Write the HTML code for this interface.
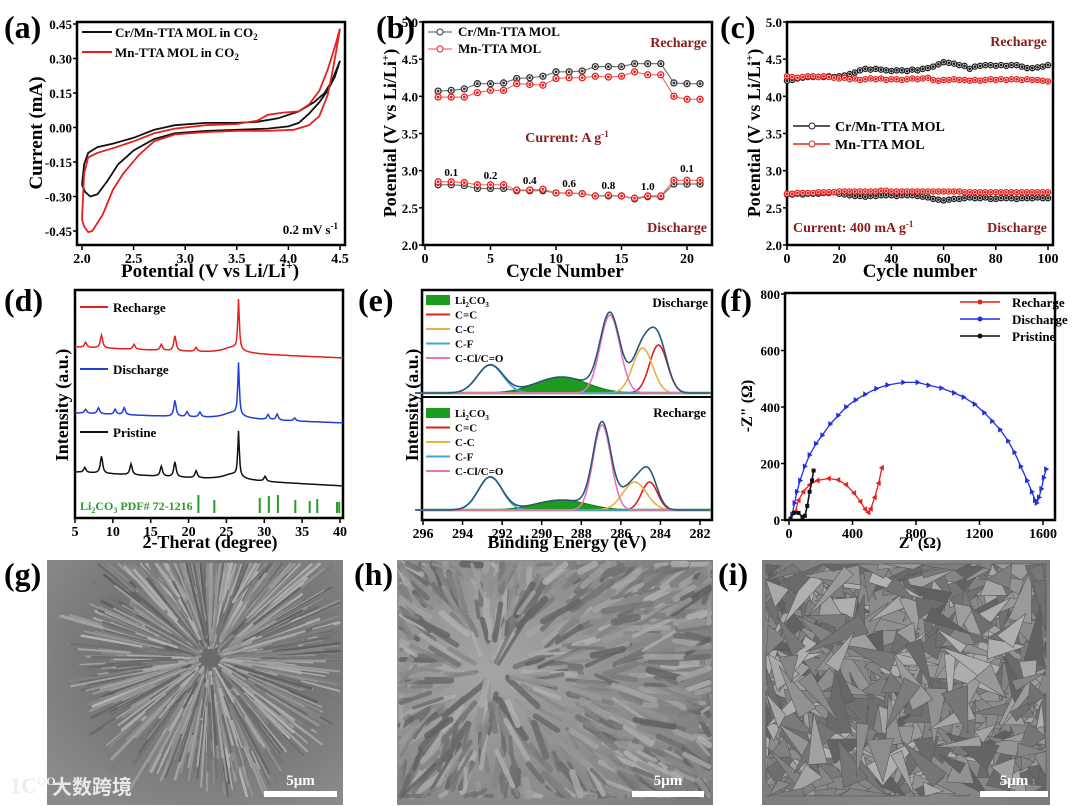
<!DOCTYPE html>
<html><head><meta charset="utf-8">
<style>
html,body{margin:0;padding:0;background:#fff;overflow:hidden;width:1080px;height:806px;}
svg{display:block;font-family:"Liberation Serif",serif;font-weight:bold;}
</style></head>
<body>
<svg id="fig" width="1080" height="806" viewBox="0 0 1080 806" xmlns="http://www.w3.org/2000/svg">
<defs>
<clipPath id="clipG"><rect x="47" y="560" width="296" height="245"/></clipPath>
<clipPath id="clipH"><rect x="397" y="560" width="316" height="245"/></clipPath>
<clipPath id="clipI"><rect x="762" y="560" width="288" height="245"/></clipPath>
<radialGradient id="gradG" cx="0.55" cy="0.4" r="0.7"><stop offset="0" stop-color="#6a6a6a"/><stop offset="0.3" stop-color="#6a6a6a"/><stop offset="1" stop-color="#8a8a8a"/></radialGradient>
<radialGradient id="gradH" cx="0.3" cy="0.45" r="0.8"><stop offset="0" stop-color="#a5a5a5"/><stop offset="1" stop-color="#7c7c7c"/></radialGradient>
<radialGradient id="gradI" cx="0.5" cy="0.5" r="0.75"><stop offset="0" stop-color="#9a9a9a"/><stop offset="1" stop-color="#7a7a7a"/></radialGradient>
</defs>
</svg>
<script>
// ---------- Panel a data (CV) ----------
const cvBlackV=[2.0,2.02,2.06,2.15,2.3,2.5,2.7,2.9,3.2,3.5,3.7,3.9,4.1,4.25,4.35,4.42,4.5,4.45,4.38,4.3,4.2,4.1,4.0,3.8,3.5,3.2,2.9,2.7,2.5,2.35,2.25,2.15,2.08,2.03,2.0];
const cvBlackI=[-0.25,-0.16,-0.11,-0.085,-0.07,-0.045,-0.01,0.01,0.02,0.02,0.025,0.04,0.07,0.11,0.15,0.2,0.29,0.22,0.16,0.11,0.06,0.02,0.005,-0.005,-0.01,-0.015,-0.025,-0.05,-0.1,-0.16,-0.23,-0.29,-0.30,-0.28,-0.25];
const cvRedV=[2.0,2.02,2.06,2.15,2.3,2.5,2.7,2.9,3.2,3.5,3.7,3.8,3.95,4.1,4.2,4.3,4.38,4.45,4.5,4.47,4.43,4.38,4.3,4.2,4.05,3.8,3.5,3.2,2.9,2.7,2.55,2.4,2.3,2.2,2.1,2.06,2.02,2.0];
const cvRedI=[-0.40,-0.2,-0.13,-0.11,-0.09,-0.06,-0.025,-0.005,0.01,0.015,0.03,0.055,0.065,0.07,0.1,0.16,0.25,0.35,0.43,0.35,0.25,0.14,0.05,0.01,-0.01,-0.015,-0.015,-0.02,-0.03,-0.06,-0.12,-0.2,-0.27,-0.38,-0.45,-0.455,-0.43,-0.40];
const aXTicks=[2.0,2.5,3.0,3.5,4.0,4.5];
const aYTicks=[-0.45,-0.30,-0.15,0.00,0.15,0.30,0.45];
// ---------- Panel b data (rate) ----------
const bCycles=[1,2,3,4,5,6,7,8,9,10,11,12,13,14,15,16,17,18,19,20,21];
const bCrCharge=[4.07,4.08,4.10,4.17,4.17,4.18,4.24,4.25,4.27,4.33,4.33,4.34,4.40,4.40,4.40,4.44,4.44,4.44,4.18,4.17,4.17];
const bMnCharge=[3.99,3.99,3.99,4.05,4.08,4.08,4.17,4.16,4.15,4.24,4.25,4.25,4.27,4.26,4.27,4.33,4.29,4.29,4.00,3.96,3.96];
const bCrDis=[2.81,2.81,2.80,2.76,2.76,2.76,2.73,2.73,2.73,2.70,2.70,2.69,2.66,2.66,2.66,2.62,2.65,2.65,2.82,2.82,2.82];
const bMnDis=[2.85,2.85,2.84,2.81,2.81,2.81,2.74,2.74,2.75,2.70,2.70,2.69,2.66,2.67,2.66,2.63,2.66,2.66,2.87,2.87,2.87];
const bRateLabels=["0.1","0.2","0.4","0.6","0.8","1.0","0.1"];
const bRateCycles=[2,5,8,11,14,17,20];
const bXTicks=[0,5,10,15,20];
const potTicks=[2.0,2.5,3.0,3.5,4.0,4.5,5.0];
// ---------- Panel c data (cycling, every 2 cycles) ----------
const cCrCharge=[4.21,4.22,4.24,4.25,4.26,4.26,4.26,4.26,4.27,4.26,4.27,4.28,4.30,4.32,4.35,4.37,4.36,4.37,4.36,4.35,4.34,4.35,4.35,4.34,4.36,4.35,4.37,4.38,4.40,4.43,4.46,4.45,4.44,4.42,4.41,4.37,4.40,4.41,4.42,4.42,4.41,4.42,4.41,4.42,4.42,4.40,4.38,4.38,4.39,4.40,4.42];
const cMnCharge=[4.27,4.26,4.25,4.26,4.27,4.27,4.26,4.27,4.26,4.25,4.24,4.25,4.23,4.24,4.22,4.23,4.24,4.23,4.24,4.22,4.23,4.23,4.22,4.23,4.24,4.23,4.24,4.25,4.22,4.21,4.22,4.22,4.23,4.22,4.22,4.21,4.22,4.21,4.22,4.23,4.22,4.23,4.22,4.23,4.23,4.22,4.23,4.22,4.22,4.21,4.20];
const cCrDis=[2.68,2.68,2.69,2.68,2.69,2.69,2.69,2.70,2.70,2.71,2.69,2.68,2.67,2.66,2.66,2.65,2.66,2.66,2.67,2.67,2.67,2.66,2.67,2.67,2.67,2.66,2.65,2.64,2.62,2.61,2.60,2.61,2.62,2.62,2.63,2.64,2.63,2.63,2.64,2.62,2.62,2.63,2.63,2.63,2.62,2.63,2.63,2.63,2.64,2.63,2.63];
const cMnDis=[2.69,2.69,2.70,2.70,2.70,2.70,2.71,2.71,2.71,2.71,2.72,2.72,2.72,2.72,2.72,2.72,2.72,2.72,2.73,2.73,2.72,2.72,2.72,2.72,2.72,2.72,2.72,2.72,2.72,2.72,2.72,2.72,2.72,2.72,2.71,2.71,2.71,2.71,2.71,2.71,2.71,2.71,2.71,2.71,2.71,2.71,2.71,2.71,2.71,2.71,2.71];
const cXTicks=[0,20,40,60,80,100];
// ---------- Panel d data (XRD peaks) ----------
const dPristinePos=[6.3,8.5,12.4,16.4,18.2,21.0,26.6,30.1];
const dPristineH=[5,17,11,10,15,7,45,5];
const dDischargePos=[6.4,8.1,10.3,11.5,18.2,19.8,21.5,26.6,30.5,31.7,34.0];
const dDischargeH=[4,6,5,7,16,5,5,52,5,6,3];
const dRechargePos=[6.4,8.5,12.8,16.4,18.2,21.0,26.6];
const dRechargeH=[5,13,5,6,15,4,50];
const dRefPos=[21.3,23.4,29.4,30.6,31.8,34.1,36.0,37.0,39.6,39.9];
const dRefH=[18,13,15,17,18,13,12,14,11,11];
const dXTicks=[5,10,15,20,25,30,35,40];
// ---------- Panel e data (XPS components: center, height px, sigma) ----------
const eCompNames=["Li2CO3","C=C","C-C","C-F","C-Cl/C=O"];
const eDisCenter=[289.0,284.1,284.9,292.6,286.55];
const eDisHeight=[16,48,45,28,78];
const eDisSigma=[1.3,0.45,0.5,0.65,0.5];
const eRecCenter=[289.0,284.55,285.3,292.6,286.95];
const eRecHeight=[10,28,28,33,85];
const eRecSigma=[1.3,0.4,0.6,0.6,0.45];
const eXTicks=[296,294,292,290,288,286,284,282];
// ---------- Panel f data (EIS) ----------
const fDisX=[20,35,50,70,100,130,170,210,260,310,360,420,480,550,620,720,810,880,960,1040,1100,1170,1230,1280,1330,1380,1420,1460,1500,1530,1550,1560,1575,1590,1605,1620];
const fDisY=[20,60,100,140,190,230,270,300,340,370,400,425,445,465,478,487,487,477,467,450,435,410,380,350,320,280,240,190,140,100,70,60,80,110,150,180];
const fRecX=[40,60,90,130,180,250,310,360,410,450,480,500,515,540,565,585];
const fRecY=[30,70,100,125,140,147,142,125,95,65,38,27,40,80,130,185];
const fPriX=[10,30,60,85,100,115,130,145,155];
const fPriY=[5,25,25,10,15,50,100,140,175];
const fXTicks=[0,400,800,1200,1600];
const fYTicks=[0,200,400,600,800];

const NS="http://www.w3.org/2000/svg";
const svg=document.getElementById('fig');
function mk(tag,attrs,name,parent,inter){
  const el=document.createElementNS(NS,tag);
  for(const k in attrs) el.setAttribute(k,attrs[k]);
  
  
  (parent||svg).appendChild(el);
  return el;
}
function txt(x,y,s,size,name,opts){
  opts=opts||{};
  const t=mk('text',{x:x,y:y,'font-size':size,fill:opts.fill||'#000','text-anchor':opts.anchor||'start'},name,opts.parent);
  if(opts.rot) t.setAttribute('transform','rotate(-90 '+x+' '+y+')');
  t.innerHTML=s;
  return t;
}
function lin(d0,d1,r0,r1){return v=>r0+(v-d0)/(d1-d0)*(r1-r0);}
function box(x0,y0,x1,y1,name){mk('rect',{x:x0,y:y0,width:x1-x0,height:y1-y0,fill:'none',stroke:'#000','stroke-width':2.5},name);}
function xticks(vals,sx,yb,labels,name){
  vals.forEach((v,i)=>{
    const x=sx(v);
    mk('line',{x1:x,y1:yb,x2:x,y2:yb+5,stroke:'#000','stroke-width':1.5},name+'-tick');
    txt(x,yb+18,labels?labels[i]:String(v),14,name+'-label',{anchor:'middle'});
  });
}
function yticks(vals,sy,xl,fmt,name){
  vals.forEach(v=>{
    const y=sy(v);
    mk('line',{x1:xl-4,y1:y,x2:xl,y2:y,stroke:'#000','stroke-width':1.5},name+'-tick');
    txt(xl-5,y+5,fmt(v),13,name+'-label',{anchor:'end'});
  });
}
function poly(xs,ys,sx,sy,color,name,w){
  const p=xs.map((x,i)=>sx(x).toFixed(1)+','+sy(ys[i]).toFixed(1)).join(' ');
  return mk('polyline',{points:p,fill:'none',stroke:color,'stroke-width':w||1.6},name);
}
function markers(xs,ys,sx,sy,color,name,r){
  xs.forEach((x,i)=>{mk('circle',{cx:sx(x),cy:sy(ys[i]),r:r||3,fill:'#fff',stroke:color,'stroke-width':1.3},name);
  mk('circle',{cx:sx(x),cy:sy(ys[i]),r:1.4,fill:color},name+'-dot');});
}
const DR='#8b1a1a';

// ===== Panel a =====
txt(4,38,'(a)',32,'panel-a-label');
const ax=lin(2.0,4.5,82,340), ay=lin(-0.45,0.45,231,24);
box(77,22,345,245,'panel-a-frame');
xticks(aXTicks,ax,245,aXTicks.map(v=>v.toFixed(1)),'a-x-tick');
yticks(aYTicks,ay,77,v=>v.toFixed(2),'a-y-tick');
poly(cvBlackV,cvBlackI,ax,ay,'#111','cv-curve-cr-mn',1.8);
poly(cvRedV,cvRedI,ax,ay,'#e5201e','cv-curve-mn',1.8);
mk('line',{x1:82,y1:32,x2:112,y2:32,stroke:'#111','stroke-width':2},'legend-a-cr-line');
txt(115,37,'Cr/Mn-TTA MOL in CO<tspan font-size="9" dy="3">2</tspan>',13,'legend-a-cr-text');
mk('line',{x1:82,y1:52,x2:112,y2:52,stroke:'#e5201e','stroke-width':2},'legend-a-mn-line');
txt(115,57,'Mn-TTA MOL in CO<tspan font-size="9" dy="3">2</tspan>',13,'legend-a-mn-text');
txt(338,234,'0.2 mV s<tspan font-size="9" dy="-5">-1</tspan>',13,'scan-rate-note',{anchor:'end'});
txt(42,133,'Current (mA)',19,'a-y-axis-title',{anchor:'middle',rot:true});
txt(210,277,'Potential (V vs Li/Li<tspan font-size="12" dy="-8">+</tspan><tspan dy="8">)</tspan>',19,'a-x-axis-title',{anchor:'middle'});

// ===== Panel b =====
txt(376,38,'(b)',32,'panel-b-label');
const bx=lin(0,20,425,687), by=lin(2.0,5.0,245,22);
box(423,22,712,245,'panel-b-frame');
xticks(bXTicks,bx,245,null,'b-x-tick');
yticks(potTicks,by,423,v=>v.toFixed(1),'b-y-tick');
[[bCrCharge,'#333','b-cr-recharge'],[bMnCharge,'#e5201e','b-mn-recharge'],[bCrDis,'#333','b-cr-discharge'],[bMnDis,'#e5201e','b-mn-discharge']].forEach(s=>{
  poly(bCycles,s[0],bx,by,s[1]==='#333'?'#777':'#f07070',s[2]+'-line',1.2);
  markers(bCycles,s[0],bx,by,s[1],s[2]+'-marker',3);
});
bRateCycles.forEach((c,i)=>{
  const yy=i===6?by(2.98):by(bMnDis[c-1])-6;
  txt(bx(c),yy,bRateLabels[i],11,'rate-label',{anchor:'middle'});
});
mk('line',{x1:428,y1:32,x2:452,y2:32,stroke:'#777','stroke-width':1.3},'legend-b-cr-line');
mk('circle',{cx:440,cy:32,r:3,fill:'#fff',stroke:'#333'},'legend-b-cr-marker');
txt(458,36,'Cr/Mn-TTA MOL',13,'legend-b-cr-text');
mk('line',{x1:428,y1:49,x2:452,y2:49,stroke:'#f07070','stroke-width':1.3},'legend-b-mn-line');
mk('circle',{cx:440,cy:49,r:3,fill:'#fff',stroke:'#e5201e'},'legend-b-mn-marker');
txt(458,53,'Mn-TTA MOL',13,'legend-b-mn-text');
txt(707,47,'Recharge',14,'b-recharge-note',{anchor:'end',fill:DR});
txt(567,142,'Current:  A g<tspan font-size="9" dy="-5">-1</tspan>',14,'b-current-note',{anchor:'middle',fill:DR});
txt(707,232,'Discharge',14,'b-discharge-note',{anchor:'end',fill:DR});
txt(396,133,'Potential (V vs Li/Li<tspan font-size="11" dy="-7">+</tspan><tspan dy="7">)</tspan>',18,'b-y-axis-title',{anchor:'middle',rot:true});
txt(565,277,'Cycle Number',19,'b-x-axis-title',{anchor:'middle'});

// ===== Panel c =====
txt(720,38,'(c)',32,'panel-c-label');
const cx=lin(0,100,787,1048), cy=by;
const cIdx=cCrCharge.map((_,i)=>i*2);
box(787,22,1053,245,'panel-c-frame');
xticks(cXTicks,cx,245,null,'c-x-tick');
yticks(potTicks,cy,787,v=>v.toFixed(1),'c-y-tick');
[[cCrCharge,'#222','c-cr-recharge'],[cMnCharge,'#e5201e','c-mn-recharge'],[cCrDis,'#222','c-cr-discharge'],[cMnDis,'#e5201e','c-mn-discharge']].forEach(s=>{
  poly(cIdx,s[0],cx,cy,s[1],s[2]+'-line',1.2);
  markers(cIdx,s[0],cx,cy,s[1],s[2]+'-marker',2.6);
});
mk('line',{x1:793,y1:126,x2:830,y2:126,stroke:'#222','stroke-width':1.5},'legend-c-cr-line');
mk('circle',{cx:812,cy:126,r:3,fill:'#fff',stroke:'#222'},'legend-c-cr-marker');
txt(835,131,'Cr/Mn-TTA MOL',14,'legend-c-cr-text');
mk('line',{x1:793,y1:144,x2:830,y2:144,stroke:'#e5201e','stroke-width':1.5},'legend-c-mn-line');
mk('circle',{cx:812,cy:144,r:3,fill:'#fff',stroke:'#e5201e'},'legend-c-mn-marker');
txt(835,149,'Mn-TTA MOL',14,'legend-c-mn-text');
txt(1047,46,'Recharge',14,'c-recharge-note',{anchor:'end',fill:DR});
txt(793,232,'Current: 400 mA g<tspan font-size="9" dy="-5">-1</tspan>',14,'c-current-note',{fill:DR});
txt(1047,232,'Discharge',14,'c-discharge-note',{anchor:'end',fill:DR});
txt(760,133,'Potential  (V vs Li/Li<tspan font-size="11" dy="-7">+</tspan><tspan dy="7">)</tspan>',18,'c-y-axis-title',{anchor:'middle',rot:true});
txt(920,277,'Cycle number',19,'c-x-axis-title',{anchor:'middle'});

// ===== Panel d =====
txt(4,311,'(d)',32,'panel-d-label');
const dx=lin(5,40,75,340);
box(75,290,343,518,'panel-d-frame');
xticks(dXTicks,dx,518,null,'d-x-tick');
function xrd(pos,h,b0,b1,color,name){
  const xs=[],ys=[];
  for(let t=5;t<=40.5;t+=0.1){
    let y=b0+(b1-b0)*(t-5)/35.5;
    let s=0;
    pos.forEach((p,i)=>{const w=p>26&&p<27?0.12:0.18;s+=h[i]/(1+((t-p)/w)**2);});
    s+=6/(1+((t-25.8)/1.5)**2);
    xs.push(dx(t));ys.push(y-s);
  }
  poly(xs,ys,v=>v,v=>v,color,name,1.5);
}
xrd(dRechargePos,dRechargeH,347,358,'#e5201e','xrd-recharge');
xrd(dDischargePos,dDischargeH,413,423,'#1f3fd6','xrd-discharge');
xrd(dPristinePos,dPristineH,472,486,'#111','xrd-pristine');
dRefPos.forEach((p,i)=>mk('line',{x1:dx(p),y1:513,x2:dx(p),y2:513-dRefH[i],stroke:'#2a9a2a','stroke-width':2},'li2co3-ref-line'));
txt(80,510,'Li<tspan font-size="8" dy="3">2</tspan><tspan dy="-3">CO</tspan><tspan font-size="8" dy="3">3</tspan><tspan dy="-3"> PDF# 72-1216</tspan>',12,'li2co3-ref-label',{fill:'#2a9a2a'});
[['Recharge','#e5201e',307],['Discharge','#1f3fd6',369],['Pristine','#111',432]].forEach(l=>{
  mk('line',{x1:80,y1:l[2],x2:108,y2:l[2],stroke:l[1],'stroke-width':2},'legend-d-line');
  txt(113,l[2]+5,l[0],13,'legend-d-text');
});
txt(68,405,'Intensity (a.u.)',18,'d-y-axis-title',{anchor:'middle',rot:true});
txt(210,548,'2-Therat (degree)',18,'d-x-axis-title',{anchor:'middle'});

// ===== Panel e =====
txt(358,311,'(e)',32,'panel-e-label');
const ex=lin(296,282,423,700);
box(422,290,712,520,'panel-e-frame');
mk('line',{x1:422,y1:397,x2:712,y2:397,stroke:'#000','stroke-width':2},'panel-e-divider');
xticks(eXTicks,ex,520,null,'e-x-tick');
const eColors=['#1f9a1f','#e02020','#e8b040','#39a8e0','#f070c0'];
function xps(cen,hgt,sig,base,tag){
  const g=k=>{const xs=[],ys=[];for(let t=296.4;t>=281.5;t-=0.05){xs.push(ex(t));ys.push(base-k(t));}return [xs,ys];};
  const comp=i=>t=>hgt[i]*Math.exp(-((t-cen[i])**2)/(2*sig[i]**2));
  const [lx,ly]=g(comp(0));
  const pts=lx.map((x,i)=>x.toFixed(1)+','+ly[i].toFixed(1)).join(' ');
  mk('polygon',{points:pts+' '+lx[lx.length-1]+','+base+' '+lx[0]+','+base,fill:'#1e9a1e',stroke:'#157a15','stroke-width':1},tag+'-li2co3-area');
  mk('line',{x1:423,y1:base,x2:711,y2:base,stroke:'#1e9a1e','stroke-width':2.5},tag+'-baseline');
  for(let i=1;i<5;i++){const [xs,ys]=g(comp(i));poly(xs,ys,v=>v,v=>v,eColors[i],tag+'-'+eCompNames[i]+'-peak',1.6);}
  const [xs,ys]=g(t=>{let s=0;for(let i=0;i<5;i++)s+=comp(i)(t);return s;});
  poly(xs,ys,v=>v,v=>v,'#2a5878',tag+'-envelope',1.6);
}
xps(eDisCenter,eDisHeight,eDisSigma,393,'xps-discharge');
xps(eRecCenter,eRecHeight,eRecSigma,510,'xps-recharge');
function eLegend(y0,tag){
  mk('rect',{x:426,y:y0-5,width:24,height:10,fill:'#1e9a1e'},tag+'-swatch');
  txt(455,y0+4,'Li<tspan font-size="7" dy="3">2</tspan><tspan dy="-3">CO</tspan><tspan font-size="7" dy="3">3</tspan>',11,tag+'-text');
  for(let i=1;i<5;i++){
    const y=y0+i*14.5;
    mk('line',{x1:426,y1:y,x2:450,y2:y,stroke:eColors[i],'stroke-width':2},tag+'-line');
    txt(455,y+4,eCompNames[i],11,tag+'-text');
  }
}
eLegend(300,'legend-e-discharge');
eLegend(413,'legend-e-recharge');
txt(708,307,'Discharge',13,'e-discharge-note',{anchor:'end'});
txt(706,417,'Recharge',13,'e-recharge-note',{anchor:'end'});
txt(418,405,'Intensity (a.u.)',18,'e-y-axis-title',{anchor:'middle',rot:true});
txt(567,548,'Binding Energy (eV)',18,'e-x-axis-title',{anchor:'middle'});

// ===== Panel f =====
txt(720,311,'(f)',32,'panel-f-label');
const fx=lin(0,1600,789,1043), fy=lin(0,800,520,294);
box(785,293,1055,520,'panel-f-frame');
xticks(fXTicks,fx,520,null,'f-x-tick');
yticks(fYTicks,fy,785,v=>String(v),'f-y-tick');
function tri(xs,ys,color,name,dir){
  xs.forEach((x,i)=>{const px=fx(x),py=fy(ys[i]);
    const p=dir>0?[px+3,py,px-2,py-3,px-2,py+3]:[px-3,py,px+2,py-3,px+2,py+3];
    mk('polygon',{points:p.join(','),fill:color},name);});
}
poly(fDisX,fDisY,fx,fy,'#1f2fe0','eis-discharge-line',1.3);
tri(fDisX,fDisY,'#1f2fe0','eis-discharge-marker',1);
poly(fRecX,fRecY,fx,fy,'#e5201e','eis-recharge-line',1.3);
tri(fRecX,fRecY,'#e5201e','eis-recharge-marker',-1);
poly(fPriX,fPriY,fx,fy,'#111','eis-pristine-line',1.6);
fPriX.forEach((x,i)=>mk('rect',{x:fx(x)-2,y:fy(fPriY[i])-2,width:4,height:4,fill:'#111'},'eis-pristine-marker'));
[['Recharge','#e5201e',302],['Discharge','#1f2fe0',319],['Pristine','#111',336]].forEach((l,i)=>{
  mk('line',{x1:960,y1:l[2],x2:1000,y2:l[2],stroke:l[1],'stroke-width':1.5},'legend-f-line');
  mk('circle',{cx:980,cy:l[2],r:2.5,fill:l[1]},'legend-f-marker');
  txt(1000+12,l[2]+5,l[0],13,'legend-f-text');
});
txt(752,406,'-Z" (Ω)',16,'f-y-axis-title',{anchor:'middle',rot:true});
txt(920,548,"Z' (Ω)",16,'f-x-axis-title',{anchor:'middle'});

// ===== SEM images =====
let seed=7;function rnd(){seed=(seed*16807)%2147483647;return seed/2147483647;}
function sem(x0,x1,clip,grad,cxF,cyF,n,style,name,label,lx,barX0,barX1){
  txt(lx,585,label,32,name+'-label');
  const g=mk('g',{'clip-path':'url(#'+clip+')'},name);
  mk('rect',{x:x0,y:560,width:x1-x0,height:245,fill:'url(#'+grad+')'},name+'-background',g);
  const W=x1-x0, Y0=560, Y1=800;
  const cX=v=>Math.max(x0+4,Math.min(x1-4,v)), cY=v=>Math.max(Y0+4,Math.min(Y1-4,v));
  const ccx=x0+W*cxF, ccy=560+246*cyF;
  for(let i=0;i<n;i++){
    const shade=Math.floor(95+rnd()*85);
    const col='rgb('+shade+','+shade+','+shade+')';
    if(style===2){
      const px=x0+rnd()*W, py=Y0+rnd()*240, a=rnd()*Math.PI*2, len=20+rnd()*45, w=5+rnd()*9;
      const nx=-Math.sin(a)*w,ny=Math.cos(a)*w;
      const x3=px+Math.cos(a)*len,y3=py+Math.sin(a)*len;
      mk('polygon',{points:[cX(px+nx),cY(py+ny),cX(x3),cY(y3),cX(px-nx),cY(py-ny)].map(v=>v.toFixed(1)).join(','),fill:col,stroke:'#5a5a5a','stroke-width':0.6},name+'-flake',g);
    } else if(style===1){
      const px=x0+rnd()*W, py=Y0+rnd()*240;
      const a=Math.atan2(py-ccy,px-ccx)+(rnd()-0.5)*0.8, len=15+rnd()*35;
      mk('line',{x1:cX(px),y1:cY(py),x2:cX(px+Math.cos(a)*len),y2:cY(py+Math.sin(a)*len),stroke:col,'stroke-width':3+rnd()*4,'stroke-linecap':'round','opacity':0.8},name+'-grain',g);
    } else {
      const a=rnd()*Math.PI*2, r0=10+rnd()*60, r1=r0+20+rnd()*70;
      mk('line',{x1:cX(ccx+Math.cos(a)*r0),y1:cY(ccy+Math.sin(a)*r0),x2:cX(ccx+Math.cos(a)*r1),y2:cY(ccy+Math.sin(a)*r1),stroke:col,'stroke-width':1.4+rnd()*1.5,'stroke-linecap':'round'},name+'-needle',g);
    }
  }
  mk('rect',{x:barX0,y:791,width:barX1-barX0,height:6,fill:'#fff'},name+'-scale-bar');
  txt((barX0+barX1)/2,785,'5μm',15,name+'-scale-text',{anchor:'middle',fill:'#fff'});
}
sem(47,343,'clipG','gradG',0.55,0.4,1100,0,'sem-image-g','(g)',4,264,337);
sem(397,713,'clipH','gradH',0.3,0.45,700,1,'sem-image-h','(h)',354,632,704);
sem(762,1050,'clipI','gradI',0.5,0.5,420,2,'sem-image-i','(i)',718,980,1048);
txt(10,793,'1C<tspan font-size="12" dy="-8">OO</tspan><tspan dy="8"> </tspan>',22,'watermark-logo',{fill:'#eee'});
const wm=txt(52,794,'大数跨境',20,'watermark-text',{fill:'#e8e8e8'});
wm.setAttribute('font-family','"Liberation Sans","Noto Sans CJK SC",sans-serif');
</script>
</body></html>
